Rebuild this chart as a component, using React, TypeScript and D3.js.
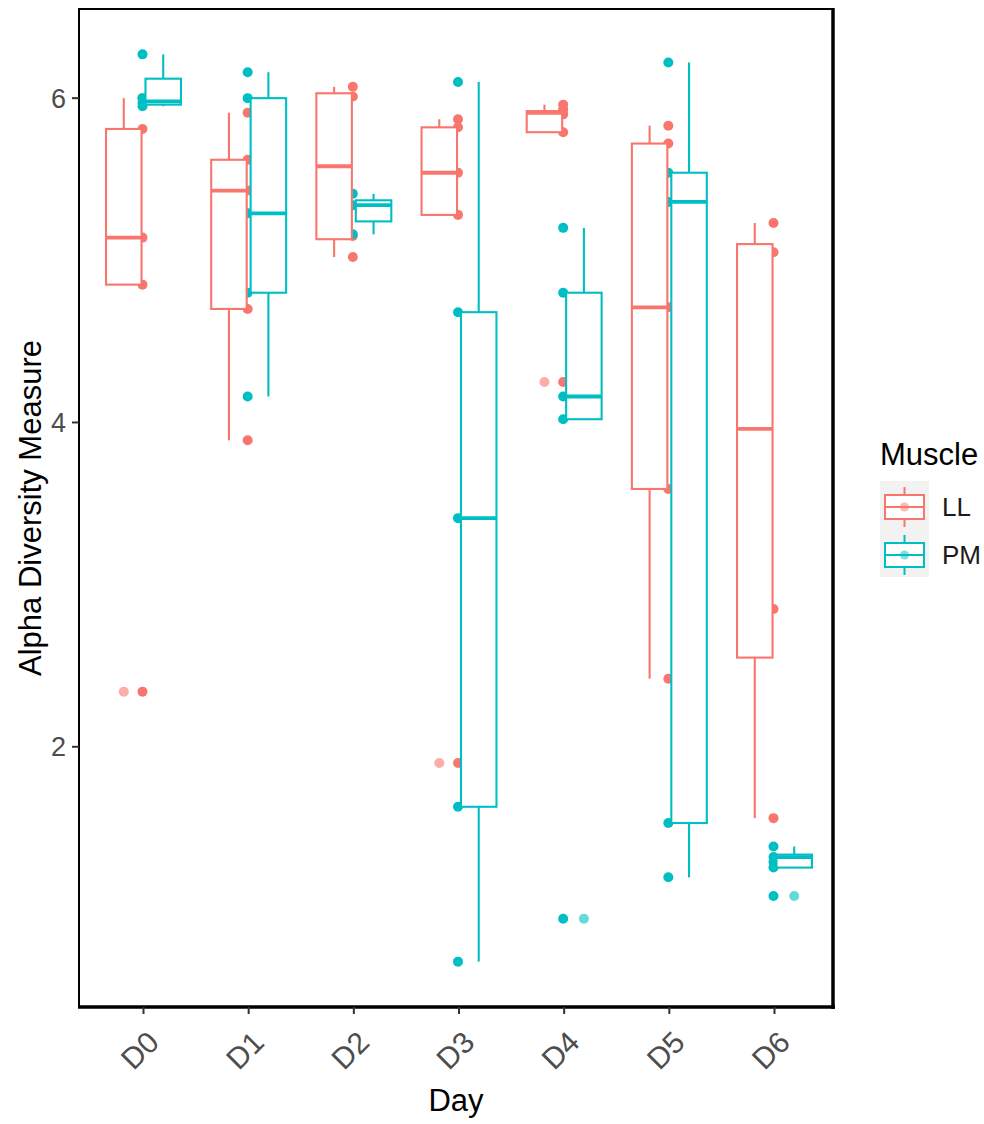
import React from "react";
import * as d3 from "d3";

const days = ["D0", "D1", "D2", "D3", "D4", "D5", "D6"];
const muscles = ["LL", "PM"];
const muscleColors = ["#F8766D", "#00BFC4"];
const yTicks = [2, 4, 6];

// LL box statistics
const llLower = [4.85, 3.89, 5.02, 5.28, 5.79, 2.42, 1.56];
const llQ1 = [4.85, 4.70, 5.13, 5.28, 5.79, 3.59, 2.55];
const llMedian = [5.14, 5.43, 5.58, 5.54, 5.91, 4.71, 3.96];
const llQ3 = [5.81, 5.62, 6.03, 5.82, 5.92, 5.72, 5.10];
const llUpper = [6.0, 5.91, 6.07, 5.87, 5.96, 5.83, 5.23];
const llPoints = [
  [6.0, 5.81, 5.14, 4.85, 2.34],
  [5.91, 5.62, 5.43, 4.70, 3.89],
  [6.07, 6.01, 5.15, 5.02],
  [5.87, 5.82, 5.54, 5.28, 1.90],
  [5.96, 5.93, 5.90, 5.79, 4.25],
  [5.83, 5.72, 4.71, 3.59, 2.42],
  [5.23, 5.05, 2.85, 1.56],
];
const llOutliers = [[2.34], [], [], [1.90], [4.25], [], []];

// PM box statistics
const pmLower = [5.95, 4.16, 5.16, 0.675, 4.02, 1.195, 1.255];
const pmQ1 = [5.96, 4.80, 5.24, 1.63, 4.02, 1.53, 1.255];
const pmMedian = [5.98, 5.29, 5.34, 3.41, 4.16, 5.36, 1.32];
const pmQ3 = [6.12, 6.0, 5.37, 4.68, 4.80, 5.54, 1.335];
const pmUpper = [6.27, 6.16, 5.41, 6.10, 5.20, 6.22, 1.385];
const pmPoints = [
  [6.27, 6.0, 5.97, 5.95],
  [6.16, 6.0, 5.29, 4.80, 4.16],
  [5.41, 5.34, 5.16],
  [6.10, 4.68, 3.41, 1.63, 0.675],
  [5.20, 4.80, 4.16, 4.02, 0.94],
  [6.22, 5.54, 5.36, 1.53, 1.195],
  [1.385, 1.32, 1.29, 1.255, 1.08],
];
const pmOutliers = [[], [], [], [], [0.94], [], [1.08]];

const stats = [
  { lower: llLower, q1: llQ1, median: llMedian, q3: llQ3, upper: llUpper, points: llPoints, outliers: llOutliers },
  { lower: pmLower, q1: pmQ1, median: pmMedian, q3: pmQ3, upper: pmUpper, points: pmPoints, outliers: pmOutliers },
];

const W = 984;
const H = 1124;
const panel = { left: 79, top: 9, right: 833, bottom: 1007 };
const FONT = "'Liberation Sans', Arial, Helvetica, sans-serif";

export default function App() {
  const allVals = stats.flatMap((s) => [...s.lower, ...s.upper, ...s.points.flat()]);
  const [mn, mx] = d3.extent(allVals) as [number, number];
  const pad = (mx - mn) * 0.05;
  const y = d3.scaleLinear().domain([mn - pad, mx + pad]).range([panel.bottom, panel.top]);
  const x = d3.scalePoint<string>().domain(days).range([143.5, 774.5]);
  const step = x.step();
  const slot = step * 0.375;
  const boxW = slot * 0.9;
  const offsets = [-slot / 2, slot / 2];

  const boxes = [] as React.ReactNode[];
  const pts = [] as React.ReactNode[];
  const outs = [] as React.ReactNode[];

  stats.forEach((s, m) => {
    const col = muscleColors[m];
    days.forEach((d, i) => {
      const cx0 = x(d)! - 1;
      s.points[i].forEach((v, k) => {
        pts.push(<circle key={`p${m}-${i}-${k}`} cx={cx0} cy={y(v)} r={5} fill={col} />);
      });
      const cx = x(d)! + offsets[m];
      boxes.push(
        <g key={`b${m}-${i}`} stroke={col} strokeWidth={2.1}>
          <line x1={cx} x2={cx} y1={y(s.upper[i])} y2={y(s.q3[i])} />
          <line x1={cx} x2={cx} y1={y(s.q1[i])} y2={y(s.lower[i])} />
          <rect x={cx - boxW / 2} y={y(s.q3[i])} width={boxW} height={Math.max(0.1, y(s.q1[i]) - y(s.q3[i]))} fill="white" />
          <line x1={cx - boxW / 2} x2={cx + boxW / 2} y1={y(s.median[i])} y2={y(s.median[i])} strokeWidth={3.8} />
        </g>
      );
      s.outliers[i].forEach((v, k) => {
        outs.push(<circle key={`o${m}-${i}-${k}`} cx={cx} cy={y(v)} r={5} fill={col} fillOpacity={0.6} />);
      });
    });
  });

  const legendItems = muscles.map((mu, m) => {
    const cy = 507 + m * 48;
    const col = muscleColors[m];
    const kx = 904.5;
    return (
      <g key={mu}>
        <g stroke={col} strokeWidth={2}>
          <line x1={kx} x2={kx} y1={cy - 20} y2={cy - 12} />
          <line x1={kx} x2={kx} y1={cy + 12} y2={cy + 20} />
          <rect x={kx - 19.5} y={cy - 12} width={39} height={24} fill="white" />
          <line x1={kx - 19.5} x2={kx + 19.5} y1={cy} y2={cy} />
        </g>
        <circle cx={kx} cy={cy} r={4.5} fill={col} fillOpacity={0.5} />
        <text x={942} y={cy} dy="0.36em" fontSize={26} fill="#1A1A1A" fontFamily={FONT}>
          {mu}
        </text>
      </g>
    );
  });

  return (
    <svg width={W} height={H} style={{ position: "absolute", left: 0, top: 0, background: "white" }}>
      <rect x={0} y={0} width={W} height={H} fill="white" />
      {pts}
      {boxes}
      {outs}
      {/* panel border */}
      <rect x={panel.left} y={panel.top} width={panel.right - panel.left} height={panel.bottom - panel.top} fill="none" stroke="#000" strokeWidth={2} />
      <line x1={panel.right} x2={panel.right} y1={panel.top - 1} y2={panel.bottom + 2} stroke="#000" strokeWidth={3.5} />
      <line x1={panel.left - 1} x2={panel.right + 2} y1={panel.bottom} y2={panel.bottom} stroke="#000" strokeWidth={3.5} />
      {/* y axis */}
      {yTicks.map((t) => (
        <g key={`yt${t}`}>
          <line x1={panel.left - 7} x2={panel.left} y1={y(t)} y2={y(t)} stroke="#333" strokeWidth={2} />
          <text x={panel.left - 13} y={y(t)} dy="0.36em" textAnchor="end" fontSize={27} fill="#4D4D4D" fontFamily={FONT}>
            {t}
          </text>
        </g>
      ))}
      {/* x axis */}
      {days.map((d) => (
        <g key={`xt${d}`}>
          <line x1={x(d)} x2={x(d)} y1={panel.bottom} y2={panel.bottom + 7} stroke="#333" strokeWidth={2} />
          <text
            transform={`translate(${x(d)! - 4},${1050}) rotate(-45)`}
            textAnchor="middle"
            dy="0.36em"
            fontSize={30}
            fill="#4D4D4D"
            fontFamily={FONT}
          >
            {d}
          </text>
        </g>
      ))}
      <text x={(panel.left + panel.right) / 2} y={1111} textAnchor="middle" fontSize={31} fill="#000" fontFamily={FONT}>
        Day
      </text>
      <text
        transform={`translate(41,${(panel.top + panel.bottom) / 2}) rotate(-90)`}
        textAnchor="middle"
        fontSize={31}
        fill="#000"
        fontFamily={FONT}
      >
        Alpha Diversity Measure
      </text>
      {/* legend */}
      <text x={880} y={465} fontSize={31} fill="#000" fontFamily={FONT}>
        Muscle
      </text>
      <rect x={880} y={481} width={49} height={96} fill="#F2F2F2" />
      {legendItems}
    </svg>
  );
}
